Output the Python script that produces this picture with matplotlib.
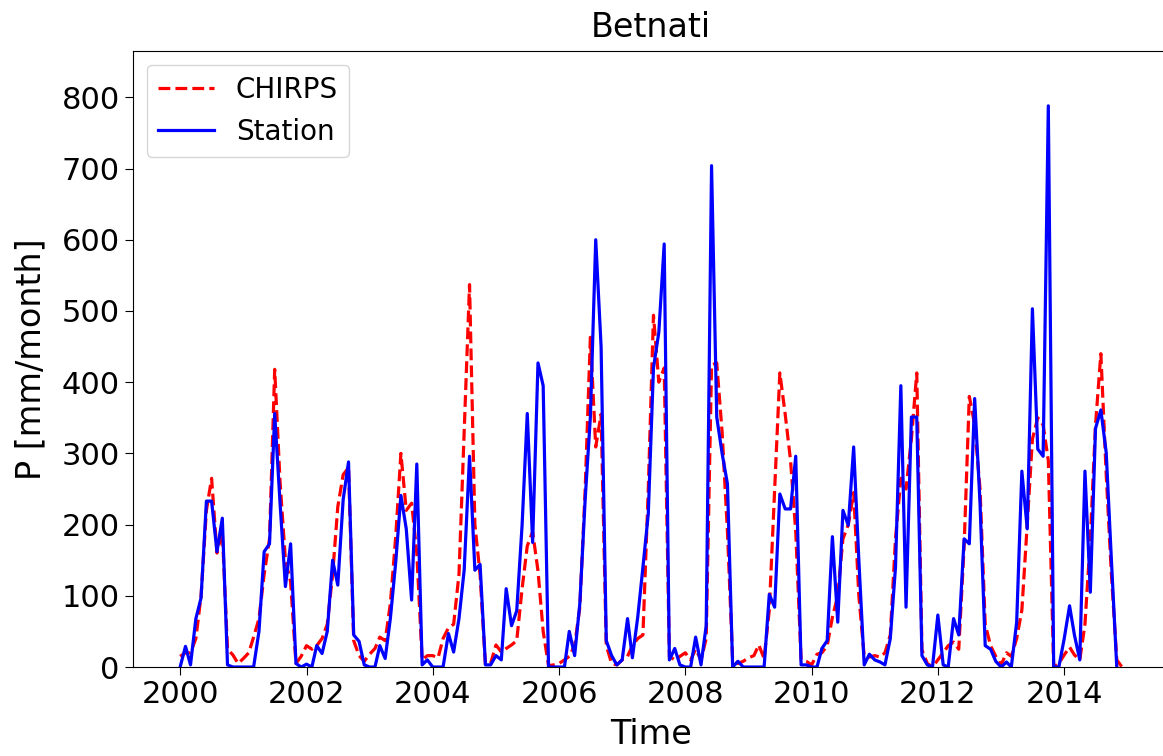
import numpy as np
import pandas as pd
import matplotlib
matplotlib.use("Agg")
import matplotlib.pyplot as plt
import matplotlib.dates as mdates

nan = np.nan

# monthly precipitation, Jan 2000 - Dec 2014 (mm/month)
station = [
    0, 29, 3, 68, 97, 233, 233, 162, 209, 3, 0, 0,            # 2000
    0, 0, 0, 50, 162, 173, 356, 230, 113, 173, 5, 0,          # 2001
    4, 0, 30, 19, 50, 150, 115, 235, 288, 45, 36, 3,          # 2002
    0, 0, 30, 12, 68, 147, 241, 194, 94, 285, 3, 10,          # 2003
    0, 0, 0, 47, 21, 68, 136, 296, 136, 144, 3, 3,            # 2004
    16, 10, 110, 58, 79, 199, 356, 175, 427, 395, 0, 0,       # 2005
    0, 0, 50, 16, 89, 236, 351, 600, 450, 37, 16, 3,          # 2006
    10, 68, 13, 70, 140, 215, 420, 470, 594, 10, 26, 3,       # 2007
    0, 0, 42, 3, 58, 704, 351, 300, 257, 0, 8, 0,             # 2008
    0, 0, 0, 0, 102, 84, 243, 222, 222, 296, 3, 3,            # 2009
    0, 0, 26, 37, 183, 63, 220, 199, 309, 150, 3, 18,         # 2010
    10, 7, 3, 40, 140, 395, 84, 351, 351, 16, 3, 0,           # 2011
    73, 3, 0, 68, 45, 180, 173, 377, 230, 30, 25, 8,          # 2012
    0, 7, 0, 63, 275, 194, 503, 306, 296, 788, 0, 0,          # 2013
    40, 86, 45, 10, 275, 105, 335, 361, 301, 150, 0, nan,     # 2014
]

chirps = [
    15, 20, 20, 40, 100, 220, 265, 160, 190, 25, 17, 5,       # 2000
    12, 20, 42, 68, 130, 180, 418, 260, 150, 120, 5, 15,      # 2001
    30, 25, 30, 40, 60, 130, 225, 270, 280, 37, 16, 8,        # 2002
    18, 26, 42, 37, 89, 183, 300, 220, 230, 160, 10, 16,      # 2003
    16, 13, 40, 55, 60, 130, 330, 537, 200, 130, 3, 5,        # 2004
    31, 21, 26, 31, 37, 110, 170, 190, 135, 50, 2, 3,         # 2005
    5, 10, 15, 30, 84, 250, 463, 309, 355, 30, 5, 3,          # 2006
    10, 15, 30, 40, 45, 250, 494, 400, 420, 15, 10, 15,       # 2007
    20, 10, 25, 10, 40, 424, 427, 330, 190, 10, 5, 8,         # 2008
    13, 16, 31, 12, 80, 250, 413, 355, 290, 190, 10, 8,       # 2009
    3, 18, 20, 30, 70, 100, 180, 200, 245, 100, 15, 14,       # 2010
    16, 14, 20, 45, 180, 265, 250, 320, 413, 24, 5, 0,        # 2011
    10, 20, 30, 35, 25, 170, 380, 340, 250, 60, 30, 15,       # 2012
    3, 20, 15, 40, 80, 200, 320, 350, 340, 290, 0, 5,         # 2013
    17, 28, 17, 10, 60, 180, 340, 440, 270, 130, 10, 0,       # 2014
]

dates = pd.date_range("2000-01-01", periods=len(chirps), freq="MS")

fig = plt.figure(figsize=(11.63, 7.56), dpi=100)
# the original image is cut off on the right, so the axes run past the edge
ax = fig.add_axes([0.1144, 0.1177, 0.8908, 0.8148])

ax.plot(dates, chirps, "r--", lw=2.3, label="CHIRPS")
ax.plot(dates, station, "b-", lw=2.3, label="Station")

ax.set_ylim(0, 865)
ax.xaxis.set_major_locator(mdates.YearLocator(2))
ax.xaxis.set_major_formatter(mdates.DateFormatter("%Y"))
ax.tick_params(labelsize=22, length=6)

ax.set_title("Betnati", fontsize=24, pad=10)
ax.set_xlabel("Time", fontsize=24, labelpad=6)
ax.set_ylabel("P [mm/month]", fontsize=24, labelpad=10)
ax.legend(loc="upper left", fontsize=20)

fig.savefig("out.png", dpi=100)
